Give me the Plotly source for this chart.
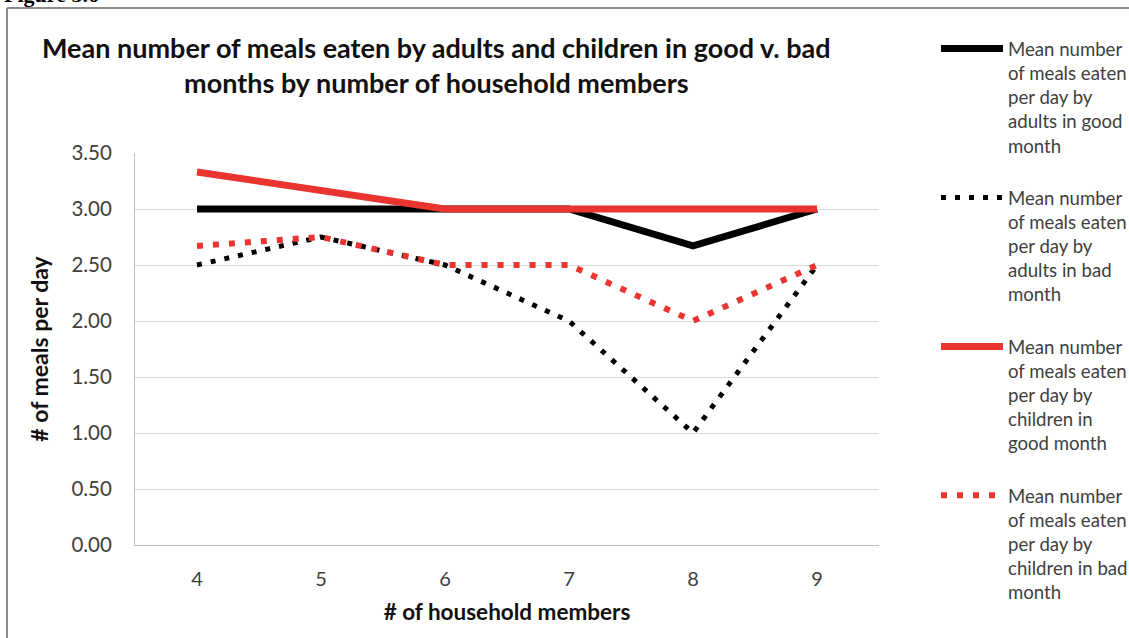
import plotly.graph_objects as go

# ---- data ----
household_members = ["4", "5", "6", "7", "8", "9"]
adults_good = [3.0, 3.0, 3.0, 3.0, 2.67, 3.0]
adults_bad = [2.5, 2.75, 2.5, 2.0, 1.0, 2.5]
children_good = [3.33, 3.17, 3.0, 3.0, 3.0, 3.0]
children_bad = [2.67, 2.75, 2.5, 2.5, 2.0, 2.5]
y_ticks = [0, 0.5, 1.0, 1.5, 2.0, 2.5, 3.0, 3.5]
y_tick_labels = ["0.00", "0.50", "1.00", "1.50", "2.00", "2.50", "3.00", "3.50"]

names = [
    "Mean number<br>of meals eaten<br>per day by<br>adults in good<br>month",
    "Mean number<br>of meals eaten<br>per day by<br>adults in bad<br>month",
    "Mean number<br>of meals eaten<br>per day by<br>children in<br>good month",
    "Mean number<br>of meals eaten<br>per day by<br>children in bad<br>month",
]

BLACK = "#000000"
RED = "#EA3430"
FONT = "Lato"

fig = go.Figure()
series = [
    (adults_good, BLACK, 7, "solid"),
    (adults_bad, BLACK, 5, "5px,9px"),
    (children_good, RED, 7, "solid"),
    (children_bad, RED, 6, "6px,10px"),
]
for i, (vals, col, w, dash) in enumerate(series):
    fig.add_trace(go.Scatter(
        x=household_members, y=vals, mode="lines", name=names[i],
        legendgroup=f"g{i}",
        line=dict(color=col, width=w, dash=dash),
        hoverinfo="x+y",
    ))

W, H = 1129, 638
L, R, T, B = 135, 250, 153, 93
pw, ph = W - L - R, H - T - B

def px_x(p):
    return (p - L) / pw

def px_y(p):
    return (H - B - p) / ph

fig.update_layout(
    width=W, height=H,
    margin=dict(l=L, r=R, t=T, b=B, autoexpand=False),
    paper_bgcolor="white", plot_bgcolor="white",
    font=dict(family=FONT, color="#404040"),
    showlegend=True,
    legend=dict(
        x=px_x(936), y=px_y(30), xanchor="left", yanchor="top",
        font=dict(family=FONT, size=18.6, color="#404040"),
        valign="top", tracegroupgap=25, itemwidth=62,
        maxheight=630,
        bgcolor="rgba(0,0,0,0)",
    ),
    xaxis=dict(
        type="category", range=[-0.5, 5.5],
        showgrid=False, showline=True, linecolor="#BFBFBF", linewidth=1,
        ticks="", ticklabelstandoff=16,
        tickfont=dict(family=FONT, size=20, color="#404040"),
        title=dict(text="<b># of household members</b>", standoff=15,
                   font=dict(family=FONT, size=22.5, color="#111111")),
        fixedrange=True,
    ),
    yaxis=dict(
        range=[0, 3.5], tickvals=y_ticks, ticktext=y_tick_labels,
        showgrid=True, gridcolor="#D9D9D9", gridwidth=1,
        showline=True, linecolor="#BFBFBF", linewidth=1,
        zeroline=False, ticks="", ticklen=0, ticklabelstandoff=18,
        tickfont=dict(family=FONT, size=20.5, color="#404040"),
        title=dict(text="<b># of meals per day</b>", standoff=16,
                   font=dict(family=FONT, size=23, color="#111111")),
        fixedrange=True,
    ),
    annotations=[
        dict(text="<b>Mean number of meals eaten by adults and children in good v. bad<br>months by number of household members</b>",
             xref="paper", yref="paper", x=px_x(436), y=px_y(29), xanchor="center", yanchor="top",
             showarrow=False, align="center",
             font=dict(family=FONT, size=27, color="#111111")),
        dict(text="<b>Figure 3.6</b>", xref="paper", yref="paper",
             x=px_x(2), y=px_y(9), xanchor="left", yanchor="bottom", showarrow=False,
             font=dict(family="Liberation Serif", size=22, color="#000000")),
    ],
    shapes=[
        dict(type="line", xref="paper", yref="paper", x0=px_x(7), x1=px_x(7),
             y0=px_y(8), y1=px_y(650), line=dict(color="#8C8C8C", width=2)),
        dict(type="line", xref="paper", yref="paper", x0=px_x(7), x1=px_x(1140),
             y0=px_y(8), y1=px_y(8), line=dict(color="#8C8C8C", width=2)),
    ],
)

fig.write_html("out.html")
